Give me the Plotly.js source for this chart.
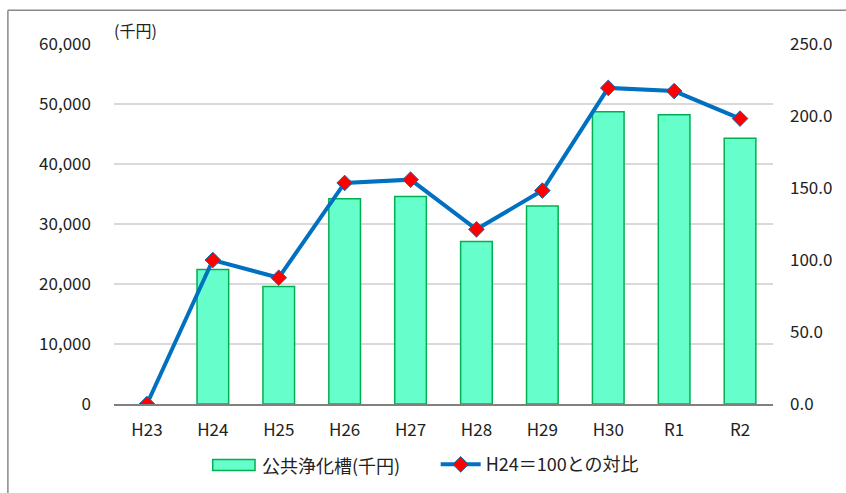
<!DOCTYPE html>
<html>
<head>
<meta charset="utf-8">
<script src="https://cdn.plot.ly/plotly-3.0.1.min.js"></script>
<style>html,body{margin:0;padding:0;background:#fff;}#chart{width:846px;height:493px;}</style>
</head>
<body>
<div id="chart"></div>
<script>
const categories = ["H23","H24","H25","H26","H27","H28","H29","H30","R1","R2"];
const tankValues = [null, 22400, 19600, 34200, 34600, 27100, 33000, 48700, 48200, 44300];
const ratioValues = [0, 100, 87.7, 153.5, 155.8, 121.3, 148.2, 219.5, 217.3, 198.2];
const barName = "公共浄化槽(千円)";
const lineName = "H24＝100との対比";
const leftTicks = [0,10000,20000,30000,40000,50000,60000];
const rightTicks = [0,50,100,150,200,250];

const FONT = "'Noto Sans CJK JP', 'Noto Sans', sans-serif";
const TXT = "#222";

const traces = [
  {
    type: "bar", name: barName, x: categories, y: tankValues, yaxis: "y",
    width: 0.48, showlegend: false,
    marker: {color: "#66FFCC", line: {color: "#00B050", width: 1.5}},
    hoverinfo: "skip"
  },
  {
    type: "scatter", mode: "lines+markers", name: lineName, x: categories, y: ratioValues, yaxis: "y2",
    line: {color: "#0070C0", width: 4},
    marker: {symbol: "diamond", size: 12, color: "#FF0000", line: {color: "#0070C0", width: 1}},
    hoverinfo: "skip"
  }
];

const layout = {
  width: 846, height: 493,
  margin: {l: 114, r: 73, t: 44, b: 89},
  paper_bgcolor: "#fff", plot_bgcolor: "#fff",
  font: {family: FONT, size: 16, color: TXT},
  showlegend: true,
  xaxis: {
    type: "category", range: [-0.5, 9.5], autorange: false,
    showgrid: false, showline: true, linecolor: "#808080", linewidth: 1.5,
    ticks: "", ticklabelstandoff: 10,
    tickfont: {family: FONT, size: 17, color: TXT}
  },
  yaxis: {
    range: [0, 60000], tickvals: leftTicks, tickformat: ",d",
    showgrid: true, gridcolor: "#d9d9d9", gridwidth: 1.5,
    zeroline: false, showline: false, ticks: "", ticklabelstandoff: 22,
    tickfont: {family: FONT, size: 17, color: TXT}
  },
  yaxis2: {
    overlaying: "y", side: "right", range: [0, 250], tickvals: rightTicks, tickformat: ".1f",
    showgrid: false, zeroline: false, showline: false, ticks: "", ticklabelstandoff: 16,
    tickfont: {family: FONT, size: 17, color: TXT}
  },
  legend: {
    orientation: "h", xref: "container", x: 0.515, xanchor: "left",
    yref: "container", y: 0.095, yanchor: "top",
    font: {family: FONT, size: 18, color: TXT},
    itemwidth: 40
  },
  annotations: [
    {text: "(千円)", xref: "paper", yref: "paper", x: 0, y: 1, xanchor: "left", yanchor: "bottom",
     xshift: -2, yshift: 0, showarrow: false, font: {family: FONT, size: 16, color: TXT}},
    {text: barName, xref: "paper", yref: "paper", x: 0.2215, y: -0.1694, xanchor: "left", yanchor: "middle",
     showarrow: false, font: {family: FONT, size: 18, color: TXT}}
  ],
  shapes: [
    {type: "rect", xref: "paper", yref: "paper", x0: 0.1498, x1: 0.214, y0: -0.1847, y1: -0.154,
     fillcolor: "#66FFCC", line: {color: "#00B050", width: 1.5}},
    {type: "line", xref: "paper", yref: "paper", x0: -0.161, x1: 1.12, y0: 1.094, y1: 1.094, line: {color: "#888", width: 1.5}},
    {type: "line", xref: "paper", yref: "paper", x0: -0.161, x1: -0.161, y0: 1.094, y1: -0.26, line: {color: "#888", width: 1.5}}
  ]
};

Plotly.newPlot("chart", traces, layout, {staticPlot: true, displayModeBar: false});
</script>
</body>
</html>
